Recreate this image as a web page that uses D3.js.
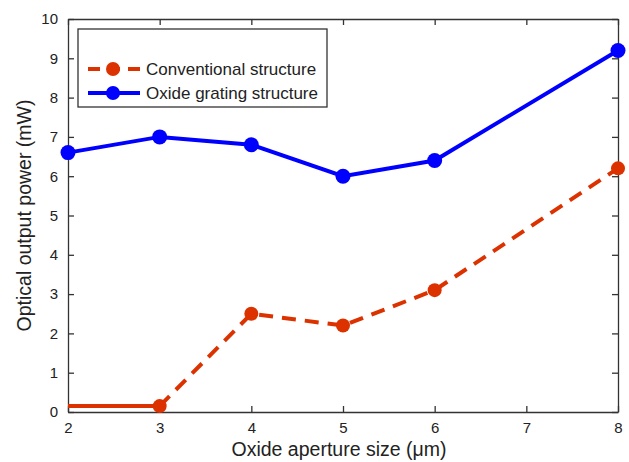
<!DOCTYPE html>
<html>
<head>
<meta charset="utf-8">
<script src="https://cdn.jsdelivr.net/npm/d3@7"></script>
<style>
body { margin: 0; background: #fff; }
text { font-family: "Liberation Sans", Arial, sans-serif; fill: #222; }
</style>
</head>
<body>
<div id="chart"></div>
<script>
// data
var apertures = [2, 3, 4, 5, 6, 8];
var conventional = [0.15, 0.15, 2.5, 2.2, 3.1, 6.2];
var grating = [6.6, 7.0, 6.8, 6.0, 6.4, 9.2];
var xTicks = [2, 3, 4, 5, 6, 7, 8];
var yTicks = [0, 1, 2, 3, 4, 5, 6, 7, 8, 9, 10];
var seriesNames = ["Conventional structure", "Oxide grating structure"];

var W = 629, H = 462;
var m = {left: 68, right: 11, top: 19, bottom: 50};
var red = "#dc3200", blue = "#0000ff";

var svg = d3.select("#chart").append("svg").attr("width", W).attr("height", H);

var x = d3.scaleLinear().domain([2, 8]).range([m.left, W - m.right]);
var y = d3.scaleLinear().domain([0, 10]).range([H - m.bottom, m.top]);

// box + inward ticks on all sides
var tk = 6;
svg.append("g").attr("transform", "translate(0," + y(0) + ")")
  .call(d3.axisBottom(x).tickValues(xTicks).tickSizeInner(-tk).tickSizeOuter(0).tickPadding(10).tickFormat(d3.format("d")));
svg.append("g").attr("transform", "translate(0," + y(10) + ")")
  .call(d3.axisTop(x).tickValues(xTicks).tickSizeInner(-tk).tickSizeOuter(0).tickFormat(""));
svg.append("g").attr("transform", "translate(" + x(2) + ",0)")
  .call(d3.axisLeft(y).tickValues(yTicks).tickSizeInner(-tk).tickSizeOuter(0).tickPadding(10).tickFormat(d3.format("d")));
svg.append("g").attr("transform", "translate(" + x(8) + ",0)")
  .call(d3.axisRight(y).tickValues(yTicks).tickSizeInner(-tk).tickSizeOuter(0).tickFormat(""));
svg.selectAll(".domain, .tick line").attr("stroke", "#333").attr("stroke-width", 1.3);
svg.selectAll(".tick text").style("font-size", "15px").attr("fill", "#222");

// labels
svg.append("text").attr("x", (x(2) + x(8)) / 2 - 4).attr("y", 456)
  .attr("text-anchor", "middle").style("font-size", "19.5px").text("Oxide aperture size (\u03bcm)");
svg.append("text").attr("transform", "translate(31," + (y(5)) + ") rotate(-90)")
  .attr("text-anchor", "middle").style("font-size", "19.5px").text("Optical output power (mW)");

var line = d3.line().x(function (d) { return x(d[0]); }).y(function (d) { return y(d[1]); });
var conv = apertures.map(function (a, i) { return [a, conventional[i]]; });
var grat = apertures.map(function (a, i) { return [a, grating[i]]; });

// conventional: first flat segment solid, rest dashed
svg.append("path").attr("d", line(conv.slice(0, 2))).attr("fill", "none")
  .attr("stroke", red).attr("stroke-width", 4);
svg.append("path").attr("d", line(conv.slice(1))).attr("fill", "none")
  .attr("stroke", red).attr("stroke-width", 4).attr("stroke-dasharray", "14,9");
svg.selectAll(".mc").data(conv.slice(1)).enter().append("circle")
  .attr("cx", function (d) { return x(d[0]); }).attr("cy", function (d) { return y(d[1]); })
  .attr("r", 7).attr("fill", red);

svg.append("path").attr("d", line(grat)).attr("fill", "none")
  .attr("stroke", blue).attr("stroke-width", 4);
svg.selectAll(".mg").data(grat).enter().append("circle")
  .attr("cx", function (d) { return x(d[0]); }).attr("cy", function (d) { return y(d[1]); })
  .attr("r", 7.5).attr("fill", blue);

// legend
var lg = svg.append("g");
lg.append("rect").attr("x", 78).attr("y", 29).attr("width", 249).attr("height", 78)
  .attr("fill", "#fff").attr("stroke", "#333").attr("stroke-width", 1.3);
var colors = [red, blue], dashes = ["12,8", null];
seriesNames.forEach(function (name, i) {
  var yy = 69 + i * 24;
  lg.append("line").attr("x1", 88).attr("x2", 140).attr("y1", yy).attr("y2", yy)
    .attr("stroke", colors[i]).attr("stroke-width", 4).attr("stroke-dasharray", dashes[i]);
  lg.append("circle").attr("cx", 113).attr("cy", yy).attr("r", 7).attr("fill", colors[i]);
  lg.append("text").attr("x", 146).attr("y", yy + 6).style("font-size", "17px").text(name);
});
</script>
</body>
</html>
